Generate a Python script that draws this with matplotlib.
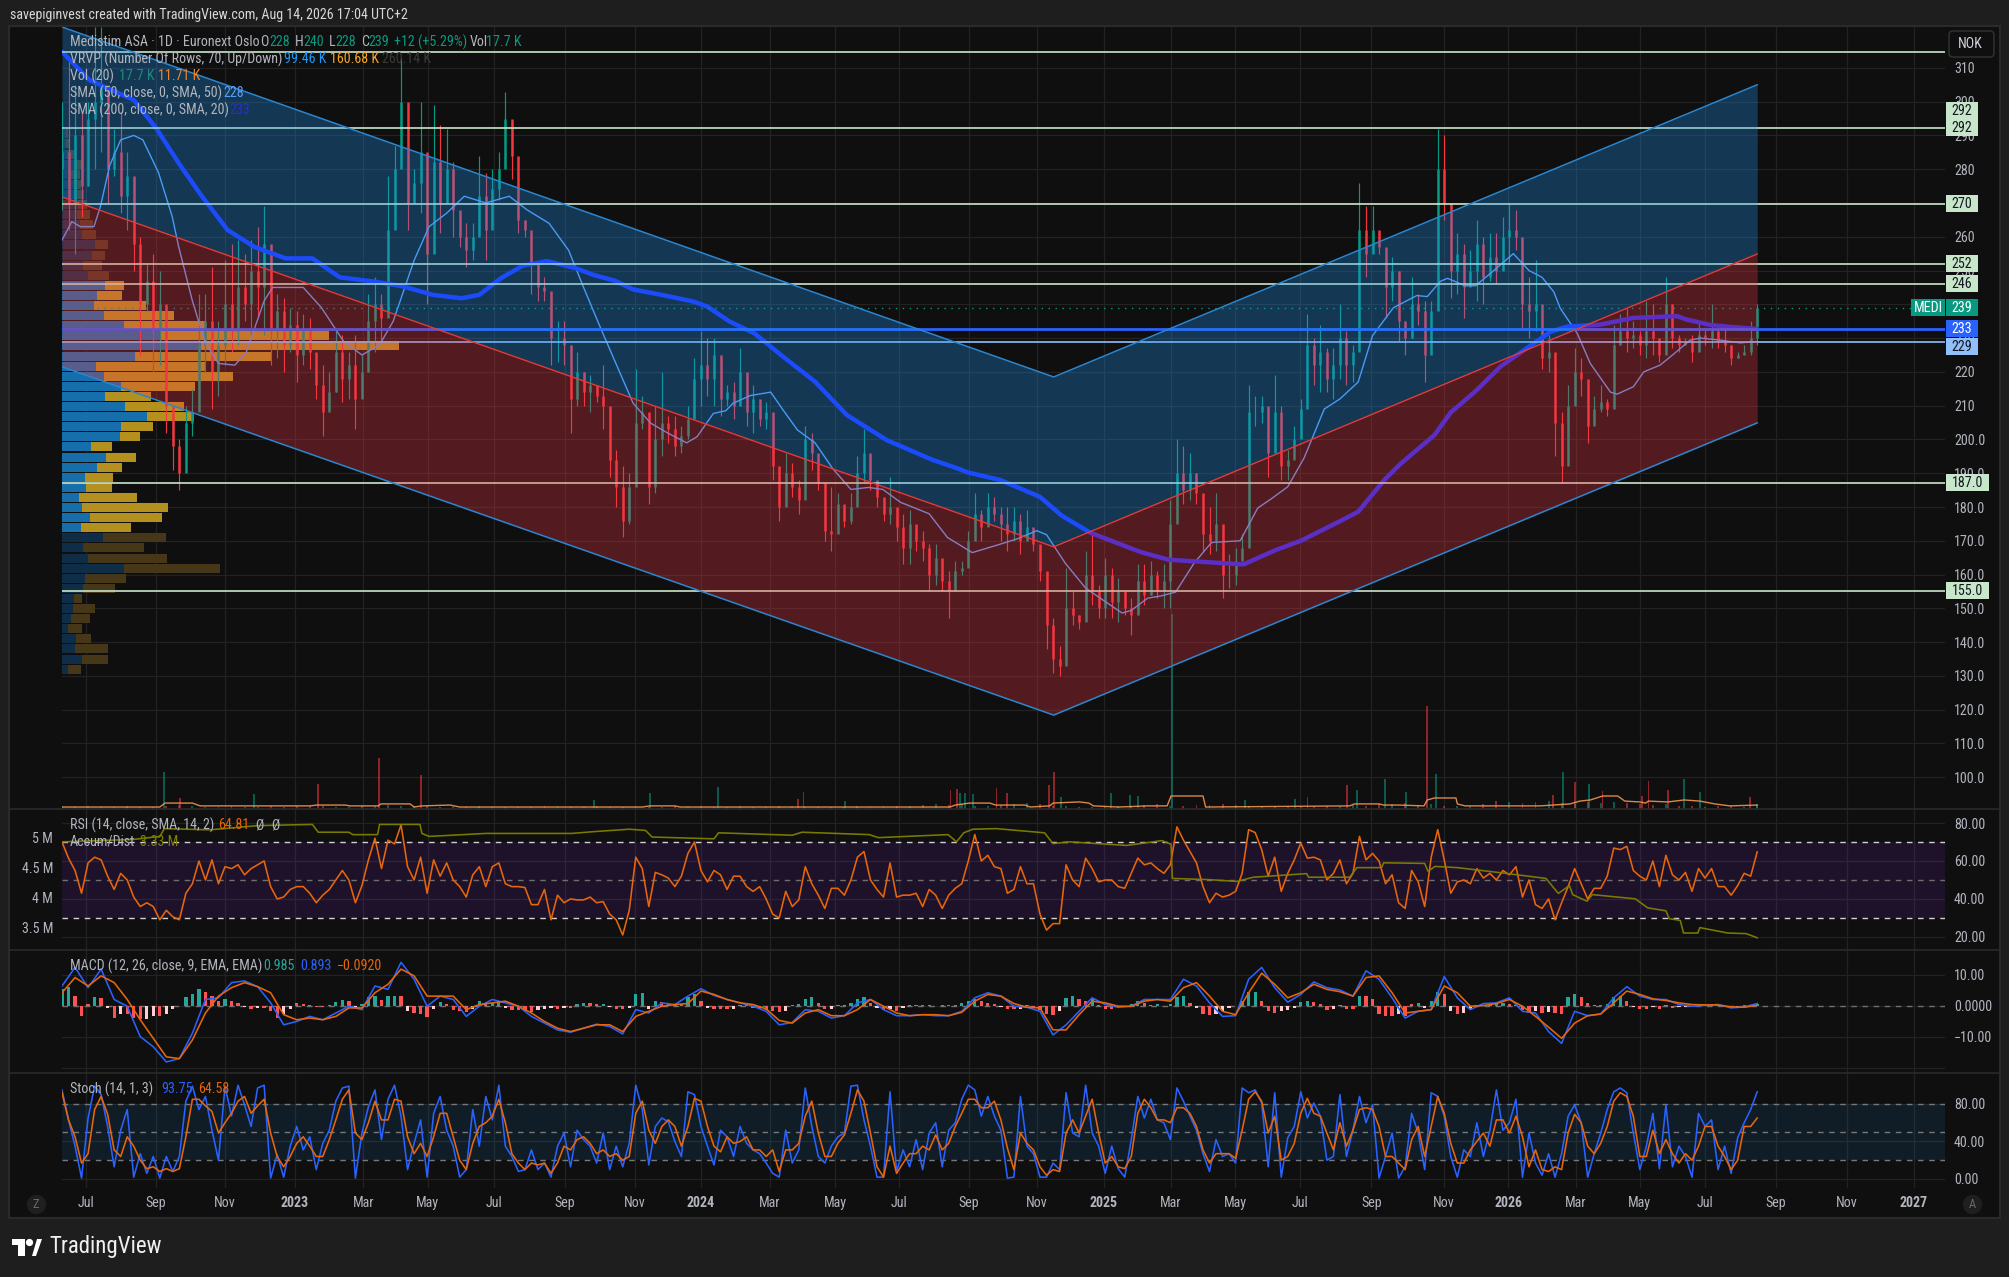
import numpy as np
import matplotlib
matplotlib.use("Agg")
import matplotlib.pyplot as plt
from matplotlib.patches import Rectangle, FancyBboxPatch, Polygon

plt.rcParams['font.family'] = ['Roboto Condensed', 'PT Sans Narrow', 'Liberation Sans', 'DejaVu Sans']
plt.rcParams['font.size'] = 10

W, H = 2009, 1277
# x axis unit: one candle slot (about 4 sessions)
month_ticks = [3.7, 14.4, 25, 35.7, 46.2, 56.1, 66.3, 77.1, 87.9, 98, 108.6, 118.6, 128.4, 139.1, 149.5,
               159.8, 170.1, 179.9, 189.9, 200.8, 212, 221.8, 232.2, 242, 252, 262.9, 273.8, 284]
month_labels = ['Jul', 'Sep', 'Nov', '2023', 'Mar', 'May', 'Jul', 'Sep', 'Nov', '2024', 'Mar', 'May', 'Jul', 'Sep', 'Nov',
                '2025', 'Mar', 'May', 'Jul', 'Sep', 'Nov', '2026', 'Mar', 'May', 'Jul', 'Sep', 'Nov', '2027']

candle_high = [300,312,305,297,300,322,322,295,292,297, 285,277,260,252,255,250,215,206,200,210,
               215,243,243,251,235,253,258,259,255,259, 263,269,251,243,242,239,238,237,236,222,
               222,220,232,231,226,231,225,243,248,243, 278,287,313,282,280,300,281,299,293,292,
               282,265,264,264,284,279,280,285,303,294, 269,265,260,251,248,242,235,235,228,226,
               220,219,216,222,201,197,192,190,221,213, 203,210,220,207,207,204,210,224,232,230,
               230,225,216,217,227,219,216,210,211,201, 188,196,193,188,204,202,189,178,186,184,
               180,184,195,203,193,186,180,189,178,178, 179,172,173,169,169,161,161,164,164,173,
               184,179,184,183,180,180,180,178,179,172, 166,157,147,139,162,155,148,167,172,157,
               165,162,159,154,153,163,163,164,161,163, 182,200,198,196,190,183,180,184,170,166,
               168,172,216,213,213,209,219,210,197,204, 212,237,230,234,227,227,240,232,228,276,
               269,269,261,255,254,250,235,248,243,241, 241,292,290,264,261,258,256,265,260,261,
               261,266,270,268,259,248,253,230,231,217, 208,216,227,224,212,213,216,212,234,237,
               239,235,232,241,240,228,248,240,231,230, 231,235,233,240,233,233,228,226,228,235,240]
candle_low = [268,262,255,266,275,280,285,270,278,267, 262,250,225,238,220,222,202,191,185,195,
              201,214,220,209,213,222,226,228,235,231, 236,231,222,224,220,226,217,222,221,212,
              201,209,214,211,212,203,214,220,226,229, 245,267,284,262,272,267,240,265,261,271,
              260,257,251,253,261,253,265,271,281,277, 261,260,243,241,241,222,223,222,202,210,
              210,208,211,203,189,180,171,175,198,203, 181,184,195,199,195,196,200,209,210,213,
              210,207,210,206,210,204,202,204,203,188, 176,184,183,178,195,191,185,170,167,178,
              174,175,186,187,185,180,176,175,170,163, 163,167,164,155,157,155,147,156,160,164,
              171,170,177,176,170,167,170,166,170,167, 158,138,131,130,137,145,144,148,151,147,
              147,147,146,148,142,151,151,154,153,150, 150,180,181,182,181,167,166,167,153,156,
              157,165,179,204,205,189,201,188,188,196, 207,218,216,214,214,212,218,216,217,230,
              248,256,255,236,241,229,225,230,234,217, 230,251,265,242,243,236,246,241,240,247,
              246,255,252,256,233,230,232,221,220,195, 187,205,215,213,199,205,208,207,215,228,
              226,227,225,224,225,223,230,227,226,228, 223,227,228,227,227,226,222,224,225,225,228]
candle_close = [285,270,290,275,295,300,305,280,285,272, 278,258,240,247,232,240,210,198,190,205,
                208,228,235,220,228,240,232,245,240,250, 245,258,232,238,228,234,225,232,226,216,
                208,214,226,218,222,212,220,235,240,236, 262,280,300,270,276,285,255,282,270,280,
                268,260,256,260,272,262,274,280,295,284, 265,262,252,245,244,230,230,228,212,220,
                214,216,213,210,194,186,176,186,205,208, 186,200,205,203,198,201,206,218,222,218,
                225,212,214,210,220,208,212,206,208,192, 180,190,186,182,200,196,187,173,172,181,
                176,180,190,196,188,183,178,180,174,168, 175,170,168,160,165,158,155,161,162,170,
                178,174,180,178,175,172,176,170,174,169, 161,145,135,133,150,148,146,160,155,150,
                160,152,155,150,148,158,154,160,155,158, 175,190,185,190,184,172,170,175,160,160,
                164,168,208,208,210,196,208,192,194,200, 209,228,222,226,218,222,230,222,226,262,
                255,262,257,245,250,235,230,240,238,225, 238,280,270,250,255,245,250,258,248,254,
                250,260,262,260,240,238,240,224,226,205, 192,210,220,218,204,209,211,209,228,232,
                230,231,228,232,230,225,240,230,228,229, 226,231,230,232,229,228,224,225,226,230,239]

sma50_x = [0,1.5,2.8,4.9,5.9,7.3,9,11,12.4,14.8,16.9,17.9,20,22,24,26.5,28.2,31,32.3,35,37,39.8,43.2,46,48.7,50.8,
           54,56.3,59,61.7,65,68.6,71.3,74.7,77.7,80,82.6,85.4,87.6,90.3,93,95.8,97.4,99.9,101.8,102.9,105.6,108.7,
           110.6,112.8,115.5,118.2,121,123.7,125.9,128.6,133,135.8,139.6,143.9,146.7,149.5,151,153.9,157,160,162.6,
           164,166.5,168.6,170.8,173.6,176.3,180.7,183.4,185.6,188,190.5,193.6,196,198.8,201,204.2,207.8,209.4,211.4,
           212.5,215.2,216.8,219.6,222.6,225,227,228.8,229.8,232.4,234.4,237.5,238.5,241,242.6,245.1,247.2,249.7,251.3,
           254.3,257.4,260]
sma50 = [259,264.5,263,263,269,281,288.7,290,288.7,279,266,257,241,228.5,222.5,222,225.5,241,245,245,245,239,229,225,228,235,
         253,263,267,272,270,272,268,264,256,245,233,220.5,210.7,204.8,201.8,199,200.8,207.7,208.5,210.7,213,214,
         208.7,202.8,199,191.4,185.2,185.8,185.2,181.4,178,171,166.5,169,170.7,173,171.8,163.3,156,152,148.6,
         149.4,153,153.7,154.8,163.3,169.5,170,179.7,182.6,186,194.5,209,212,217,230.7,239,242.6,242.3,246.8,
         247.7,245.5,245.5,250,255,250,248,243.7,238.8,231.4,222.5,214,213.4,215.6,220,222,225.3,229.4,230,
         229.4,228.6,229]
sma200_x = [0,4.2,11,14.5,17.9,21.3,25.4,29.5,34.3,38.4,42.6,48,52.1,56.9,61.3,64,67.3,70.6,74.4,78.8,81.5,84.8,87.6,92,96.9,
            99,102.4,106.2,110.6,115.5,120.4,126.5,133.6,137.4,139,143.9,150,153.3,157.7,165.4,169.7,176.3,181.2,186.2,
            190,196,198.8,202.9,205.3,210.5,213,216.8,220.7,225.7,228.3,230.8,235.9,238.5,241,247.7,249.2,252.8,255.4,260]
sma200 = [314.8,306.4,300.5,292,281.8,272.4,262,257,253.6,253.6,248,246.7,245.4,242.8,241.8,242.8,247.7,251.4,252.8,250.7,248.7,247,244.4,242.8,240.8,
          239.3,234.9,231.4,224.5,217.1,207.2,199.8,193.9,191.4,190.2,188,183,177.5,172.4,166.7,164.4,163.6,163,167.3,
          170,175.8,178.6,188.2,192.8,201.3,208,214.3,221.7,228.4,231.9,233.4,234,235,236,236.5,235.5,233.9,233.4,232.7]

# channel anchors
channel_x = [0, 152.1, 260]
channel_top = [322.1, 218.5, 305.0]
channel_mid = [271.8, 168.2, 254.9]
channel_bot = [221.5, 118.4, 204.9]

level_prices = [292.2, 269.7, 252.0, 246.0, 187.1, 155.1]
top_line_price = 314.7
sma200_last = 232.7
sma50_last = 228.9
last_price = 239.0

# visible range volume rows, bottom row first
vrvp_up = [6,20,13,14,6,9,11,12, 21,23,62,26,21,41, 19,28,20,17,24,23,35,44,29,58,59,85,63,43,59,42,34,73,139,99,62,42,32,35,43,
           26,21,30,33,20,18,15,16,15,12,9,14,5,4,4]
vrvp_down = [13,26,33,15,14,19,22,8, 32,41,96,79,61,63, 50,72,86,58,26,28,25,30,21,20,32,47,59,46,74,129,109,136,198,168,81,70,52,25,19,
             21,19,13,13,14,13,13,9,7,7,9,7,7,3,2]
vrvp_bright_from, vrvp_bright_to = 14, 38

vol_spike_x = [15.6,18.1,29.4,39.3,48.6,55.1,81.6,90.2,100.6,112.9,113.7,120.1,136.3,137.3,137.7,138.5,139.7,143.3,144.9,151.4,152.1,153.2,
               160.9,163.8,165,170.2,181.4,189.1,191,197.1,198.6,202.9,206.1,209.4,210.7,228.7,230.2,232.1,234.2,236.3,242.3,243.3,246.3,
               248.8,251.2,258.9,260]
vol_spike = [131,39,53,88,181,120,32,57,78,35,60,28,67,71,57,57,53,74,57,85,131,42,57,50,46,690,32,35,42,85,67,106,60,365,124,50,131,96,88,64,46,99,67,106,60,42,18]
vol_spike_up = [1,0,1,0,0,0,1,1,1,0,1,1,0,0,1,1,1,0,0,0,0,1,1,1,1,1,1,1,1,0,1,1,1,0,1,0,1,0,1,0,0,0,0,1,1,0,1]
# small daily volume, one reading every 2 slots
vol_base = [9,7,10,8,7,9,6,8,12,14,9,7,8,10,7,6,9,8,11,9,12,8,7,9,10,14,9,11,10,7,8,6,9,7,8,7,6,9,10,7,8,9,7,8,7,6,8,9,7,10,
            8,7,9,8,7,9,8,7,6,8,7,9,8,10,12,11,14,18,15,16,12,10,14,18,21,16,12,9,8,7,8,9,10,14,18,12,10,14,13,18,14,12,9,10,8,7,9,
            12,10,14,12,16,18,21,14,16,12,10,12,18,28,25,21,25,28,21,18,25,21,25,21,18,14,16,12,10,8,10,9,8,14]
vol_ma_x = [0,15,15.8,20,21.2,38,39.1,43.4,44.2,48.5,48.9,53.4,54,55.2,59.5,61,89,90.2,94,94.8,136.2,137,139.2,142.3,143.2,147.7,148.5,151.5,
            152,156,157.5,158.2,162,166.6,169.5,170.1,175,175.4,197.5,198.2,202,202.7,205,208.9,209.4,210.5,213.8,214,215.2,226.7,231.3,232.8,
            234.4,236.3,238.6,239.7,242,242.9,243.3,246.3,248.8,251.2,253.5,255.8,260]
vol_ma = [7,7,21,21,11,11,14,14,11,11,18,18,7,11,14,7,7,11,11,7,7,14,21,21,14,14,7,11,
          21,25,21,11,7,11,11,46,46,7,11,18,18,14,14,11,32,39,39,18,11,11,18,28,
          32,46,46,28,25,21,28,25,32,28,18,11,14]

rsi = [70,61.5,55,43,59,62,60.6,52,45,53.5,50,41,36,38,36,29,34,30.6,29,43,48,60,50,60.6,48,57,56,58,52.7,56,
       58,60,46.5,40,41,45,46.5,46.5,43,38,42,45,50,55,50,38,47,60.6,72,56,71,69,79,57,50,62,43,60.6,52,59,
       50,46.5,41,52.7,57,46.5,57,59,48,46.5,46.5,46,37,37,45,29,42,38,40,39.5,39.5,41,38,38.6,32,29,21,34,62,56,
       36,54,52.7,51,46.5,52,64,70,55,49,55,52.7,45,52,52,46.5,44,46.5,40,32,30,44,36,39.5,57,48,42,35,45.6,45.6,
       42,50,62,65,50,45,41,59,41,42,42,43,36,45,42,35,42,45.6,48,60,74,60,63,57,56,43,45,57,48,48,
       32,23.6,27,27,58,50,46.5,61.5,56,49,50,50,46.5,45.6,53.5,61.5,58,59,56,53.5,58,78,71,65,59,46.5,38,43,41,42,
       44,53.5,76.5,75,66,52,62,44,53.5,60.6,69.4,61.5,62,60.6,50,53.5,60.6,48,53.5,73,60.6,64,60,48,52.7,38,35,55,49,36,
       62,76.5,60.6,43,49,50,48,56,51,53.5,50,55,52.7,57,41,50,37,35,40,29,38,46.5,56,48,40,45.6,45.6,52,66.8,66,
       67.7,55,52,50,60,46.5,63,52.7,50,54,44,56,51,56,46.5,46.5,42,47,53.5,52,64.8]

ad_x = [0,11,15,15.7,22.7,30,38.4,39.3,44,44.6,48.4,48.7,54.9,55.2,56.3,65,78.2,81.6,87,89.5,90.5,100,100.7,112,113.5,123.8,125.2,135.9,137.2,
        138.3,139.7,143.3,150.7,152,154.5,163.3,168.7,170.1,170.3,175.9,180.2,182.7,190.9,191.2,197.5,198.6,202.4,202.7,209,209.5,210.6,214,
        221,227.6,229.5,231.2,231.7,233.9,234.7,241.3,243.2,246,246.5,248.2,248.7,250.9,251.2,255.5,258.3,260]
ad_line = [4.92,4.96,5.01,5.14,5.12,5.19,5.21,5.08,5.08,5.04,5.04,5.21,5.21,5.06,5.01,5.06,5.06,5.09,5.13,5.11,5.0,4.97,5.07,5.03,5.08,5.04,4.99,5.04,4.92,
           5.07,5.13,5.14,5.07,4.89,4.92,4.86,4.94,4.88,4.31,4.29,4.26,4.33,4.39,4.33,4.33,4.49,4.49,4.57,4.56,4.43,4.51,4.49,
           4.40,4.31,4.06,4.19,4.04,3.93,4.04,3.97,3.82,3.77,3.64,3.61,3.40,3.40,3.49,3.40,3.39,3.32]

# MACD readings as offsets from the zero line, divided by the pane scale
macd_scale = 9.2
macd_hist = np.array([50,55,30,-30,5,25,22,-5,-35,-25,-25,-35,-40,-38,-30,-30,-25,-8,0,25,35,50,42,30,15,20,15,10,-2,-10,
    -5,-5,-15,-35,-25,-10,8,5,3,-3,-3,3,12,17,15,-3,5,25,30,18,30,30,28,-15,-20,-25,-32,-10,12,5,
    -12,-15,-18,-10,15,10,10,15,-5,-12,-12,-15,-17,-12,-10,-5,-10,-5,-5,5,10,8,5,5,-4,-8,-10,-5,35,38,
    -8,15,13,8,5,5,25,35,15,-5,-10,-10,-10,-8,3,2,-5,-8,-12,-15,-18,-15,3,5,20,25,8,-10,-8,3,
    2,10,20,25,8,-5,-12,-10,-14,-5,3,2,3,2,1,2,2,3,8,15,20,15,8,5,-3,-8,-10,-8,2,-3,
    -12,-25,-28,-15,22,30,20,15,20,3,-8,-8,-5,-3,5,15,10,3,5,1,5,25,30,10,-5,-25,-28,-25,-15,-5,
    0,15,40,40,15,-15,-20,-15,-12,-5,12,15,12,5,-12,-8,3,-8,-8,30,28,20,-25,-30,-30,-25,-30,5,8,-5,
    15,40,35,-15,-25,-20,-8,2,3,3,5,8,5,3,-12,-20,-15,-20,-18,-20,-25,25,35,25,8,2,4,5,25,30,
    15,-3,-8,-8,-4,-8,3,-6,-4,-2,-2,2,3,2,2,-2,-3,-2,3,4,7]) / macd_scale
macd_line = np.array([59,114,54,109,19,-1,-91,-121,-166,-156,-81,19,24,69,74,57,9,-56,-46,-31,-41,-21,-1,-11,59,49,129,79,-1,29,
    19,-31,-1,19,9,-1,-31,-51,-71,-78,-66,-54,-61,-83,-11,-21,9,4,29,51,31,19,9,-1,-16,-56,-49,-11,-16,-36,
    -29,9,19,-11,-29,-29,-26,-29,-29,-16,24,39,29,-1,-4,-16,-86,-56,-16,24,4,-4,-1,19,19,19,79,59,
    9,-31,-29,79,114,54,11,34,71,54,47,29,104,79,24,-36,-16,-11,87,24,-11,7,9,24,-16,-21,-76,-111,-16,-29,
    -24,24,57,29,19,19,4,-1,2,4,-6,-3,7]) / macd_scale
macd_signal = np.array([39,84,59,89,69,19,-41,-96,-151,-156,-101,-21,29,54,69,57,39,-26,-41,-36,-41,-31,-6,-6,39,64,109,89,29,29,
    29,-11,4,9,14,-1,-21,-46,-66,-76,-66,-56,-56,-76,-31,-16,-1,4,7,44,34,19,9,4,-9,-43,-51,-21,-11,-29,
    -29,-11,19,-1,-21,-29,-26,-26,-29,-19,14,34,29,7,-4,-6,-71,-71,-26,14,9,-1,-1,14,19,14,54,69,
    29,-16,-26,39,97,64,24,39,64,49,42,29,84,89,39,-21,-16,-11,59,39,-1,1,7,19,-1,-31,-63,-96,-51,-29,
    -24,9,44,34,21,16,9,4,3,3,-3,-4,2]) / macd_scale

stoch_k = [95,63,35,1,65,99,90,56,13,52,74,2,27,6,24,1,24,8,24,83,99,74,88,52,20,99,67,100,79,56,
           97,100,1,26,2,35,56,31,45,10,38,52,83,97,99,1,49,77,95,42,85,100,67,10,38,63,2,70,88,52,
           35,2,10,74,35,88,63,100,35,24,8,10,31,10,17,2,35,49,13,52,42,35,17,49,10,35,13,38,100,74,
           15,56,65,61,40,24,93,90,56,35,15,52,45,24,56,38,31,27,17,6,2,52,17,31,97,56,24,17,35,45,
           49,99,100,63,35,2,2,93,8,31,13,42,10,49,60,13,52,60,85,100,95,67,88,67,52,1,2,88,35,27,
           2,2,17,10,92,49,45,100,49,35,6,35,11,2,42,88,65,85,63,60,42,97,83,67,52,27,8,42,24,27,
           17,97,92,95,81,13,92,2,44,56,93,65,81,67,20,24,90,24,52,88,60,79,1,24,49,1,13,70,49,10,
           92,88,67,24,2,31,24,60,24,52,95,52,60,85,2,49,17,4,27,2,27,67,79,60,2,27,49,74,93,97,
           92,49,10,35,70,11,79,13,35,24,2,70,56,63,10,35,6,44,60,74,93]
stoch_d = [92,63,45,17,27,74,88,69,31,24,45,35,20,11,13,8,11,8,11,45,85,85,78,72,49,60,70,83,88,70,
           78,85,49,24,13,24,38,45,35,24,24,42,63,85,95,49,42,60,83,63,63,85,83,45,27,38,24,45,70,70,
           45,20,10,38,56,60,67,85,60,27,17,10,17,15,17,6,17,35,31,42,45,38,27,31,24,27,20,24,70,83,
           52,38,56,63,56,35,56,86,83,56,35,29,45,38,40,45,31,31,24,31,8,31,31,38,67,83,49,24,24,38,
           47,70,95,83,49,13,2,35,6,17,27,27,35,31,47,31,38,56,70,85,85,76,76,83,63,33,10,49,38,31,
           13,4,10,8,49,63,49,67,85,49,17,24,13,11,24,70,85,76,63,63,60,76,76,70,56,31,17,27,27,27,
           22,52,85,93,83,49,67,20,24,38,70,86,70,67,49,31,60,35,52,74,76,74,56,24,24,17,10,42,56,24,
           56,88,70,38,17,17,31,40,49,35,63,63,49,67,45,13,31,10,8,13,10,49,69,60,35,27,38,56,83,92,
           88,67,24,24,52,27,42,27,17,27,20,35,56,56,35,24,10,20,56,56,65]

fig = plt.figure(figsize=(W / 100, H / 100), dpi=100, facecolor='#1e1e1e')
fig.add_artist(Rectangle((9 / W, 1 - 1218 / H), 1991 / W, 1192 / H, transform=fig.transFigure,
                         facecolor='#0f0f0f', edgecolor='#2a2a2a', lw=1.5, zorder=-1))


def pane(top, bottom):
    ax = fig.add_axes([62 / W, 1 - bottom / H, (1945 - 62) / W, (bottom - top) / H])
    ax.set_facecolor('none')
    for s in ax.spines.values():
        s.set_visible(False)
    ax.set_xlim(0, (1945 - 62) / 6.52)
    ax.set_xticks(month_ticks)
    ax.set_xticklabels([])
    ax.yaxis.tick_right()
    ax.tick_params(length=0, labelcolor='#b2b5be', labelsize=10.1, pad=6.5)
    ax.grid(True, color='#222222', lw=0.9)
    ax.set_axisbelow(True)
    return ax


ax_main = pane(27, 809)
ax_rsi = pane(809, 950)
ax_macd = pane(950, 1073)
ax_stoch = pane(1073, 1188)

# main pane
y_top, y_bot = 322.1, 90.6
ax_main.set_ylim(y_bot, y_top)
main_ticks = list(range(100, 320, 10))
ax_main.set_yticks(main_ticks)
ax_main.set_yticklabels([f'{t}' if t > 200 else f'{t}.0' for t in main_ticks])


def price_y(p):
    return 27 + (y_top - p) * 3.377


rows = np.arange(len(vrvp_up))
row_price = 132 + 2.99 * rows
scale_x = 1 / 6.52
up = np.array(vrvp_up) * scale_x
down = np.array(vrvp_down) * scale_x
bright = (rows >= vrvp_bright_from) & (rows <= vrvp_bright_to)
ax_main.barh(row_price, up, height=2.68, color=np.where(bright, '#166eaa', '#0f2d46'), lw=0, zorder=1)
ax_main.barh(row_price, down, left=up, height=2.68, color=np.where(bright, '#b4911e', '#463719'), lw=0, zorder=1)

x = np.arange(len(candle_close))
high = np.array(candle_high)
low = np.array(candle_low)
close = np.array(candle_close)
open_ = np.r_[close[0] - 5, close[:-1]]
rising = close >= open_
c_up, c_down = '#089981', '#f5363f'
candle_colors = np.where(rising, c_up, c_down)

vol_to_price = 1 / 3.54 / 3.377
base_x = x[::2]
ax_main.bar(base_x, np.array(vol_base) * vol_to_price, bottom=y_bot, width=0.3,
            color=candle_colors[::2], alpha=0.55, lw=0, zorder=1.5)
ax_main.bar(vol_spike_x, np.array(vol_spike) * vol_to_price, bottom=y_bot, width=0.25,
            color=[c_up if u else c_down for u in vol_spike_up], alpha=0.55, lw=0, zorder=1.5)
ax_main.plot(vol_ma_x, y_bot + np.array(vol_ma) * vol_to_price, color='#ff9c52', lw=1, alpha=0.85, zorder=1.7)

ax_main.vlines(x, low, high, colors=candle_colors, lw=0.85, zorder=2)
ax_main.vlines(x, np.minimum(open_, close), np.maximum(open_, close), colors=candle_colors, lw=1.8, zorder=2)

ax_main.plot(sma50_x, sma50, color='#5b9cf6', lw=1.0, zorder=3)
ax_main.plot(sma200_x, sma200, color='#1a2cff', lw=3.2, zorder=3, solid_capstyle='round')

for p in [top_line_price] + level_prices:
    ax_main.axhline(p, color='#c8e6c9', lw=1.2, zorder=4)
ax_main.axhline(sma200_last, color='#2962ff', lw=2, zorder=4)
ax_main.axhline(sma50_last, color='#90bff9', lw=1.2, zorder=4)
ax_main.axhline(last_price, color='#089981', lw=1, ls=(0, (1, 4)), zorder=4)

ax_main.fill_between(channel_x, channel_mid, channel_top, color='#2196f3', alpha=0.3, lw=0, zorder=5)
ax_main.fill_between(channel_x, channel_bot, channel_mid, color='#f23645', alpha=0.3, lw=0, zorder=5)
ax_main.plot(channel_x, channel_top, color='#2a86d0', lw=1.1, zorder=6)
ax_main.plot(channel_x, channel_bot, color='#2a86d0', lw=1.1, zorder=6)
ax_main.plot(channel_x, channel_mid, color='#e53935', lw=1.0, zorder=6)

# RSI pane
ax_rsi.set_ylim(13.1, 87.4)
ax_rsi.axhspan(30, 70, color='#8a2be2', alpha=0.13, lw=0, zorder=0.6)
for lvl, col in [(70, '#d0d0d0'), (50, '#6f6f6f'), (30, '#d0d0d0')]:
    ax_rsi.axhline(lvl, color=col, lw=1, ls=(0, (4, 4)), zorder=1)
ax_rsi.plot(x, rsi, color='#e8660a', lw=1.15, zorder=3)

ax_ad = ax_rsi.twinx()
ax_ad.set_facecolor('none')
for s in ax_ad.spines.values():
    s.set_visible(False)
ax_ad.set_ylim(3.117, 5.467)
ax_ad.yaxis.tick_left()
ax_ad.set_yticks([3.5, 4, 4.5, 5])
ax_ad.set_yticklabels(['3.5 M', '4 M', '4.5 M', '5 M'])
ax_ad.tick_params(length=0, labelcolor='#b2b5be', labelsize=10.1, pad=6.5)
ax_ad.plot(ad_x, ad_line, color='#808000', lw=1.15, alpha=0.95, zorder=2)
ax_rsi.yaxis.tick_right()
ax_rsi.set_yticks([20, 40, 60, 80])
ax_rsi.set_yticklabels(['20.00', '40.00', '60.00', '80.00'])

# MACD pane
ax_macd.set_ylim(-21.6, 18)
ax_macd.set_yticks([-20, -10, 0, 10])
ax_macd.set_yticklabels(['', '\u221210.00', '0.0000', '10.00'])
ax_macd.axhline(0, color='#6f6f6f', lw=1, ls=(0, (4, 4)), zorder=1)
growing = np.r_[True, np.abs(macd_hist[1:]) >= np.abs(macd_hist[:-1])]
hist_colors = ['#26a69a' if h > 0 and g else '#ffcdd2' if h <= 0 and not g else '#ff5252'
               for h, g in zip(macd_hist, growing)]
ax_macd.bar(x, macd_hist, width=0.5, color=hist_colors, lw=0, zorder=2)
macd_x = x[::2]
ax_macd.plot(macd_x, macd_line, color='#2962ff', lw=1.15, zorder=3)
ax_macd.plot(macd_x, macd_signal, color='#e8660a', lw=1.15, zorder=3)

# Stoch pane
ax_stoch.set_ylim(-9.6, 113)
ax_stoch.set_yticks([0, 40, 80])
ax_stoch.set_yticklabels(['0.00', '40.00', '80.00'])
ax_stoch.axhspan(20, 80, color='#2196f3', alpha=0.1, lw=0, zorder=0.6)
for lvl in [80, 50, 20]:
    ax_stoch.axhline(lvl, color='#787878', lw=1, ls=(0, (4, 4)), zorder=1)
ax_stoch.plot(x, stoch_k, color='#2962ff', lw=1.15, zorder=3)
ax_stoch.plot(x, stoch_d, color='#e8660a', lw=1.15, zorder=3)
ax_stoch.set_xticklabels(month_labels)
ax_stoch.tick_params(axis='x', pad=5.5)
for lab in ax_stoch.get_xticklabels():
    if lab.get_text().isdigit():
        lab.set_fontweight('bold')


def txt(px, py, s, color='#b2b5be', size=10.1, ha='left', weight='normal', z=8):
    fig.text(px / W, 1 - py / H, s, color=color, fontsize=size, ha=ha, va='center', weight=weight, zorder=z)


# pane separators
for sep in [809, 950, 1073]:
    fig.add_artist(plt.Line2D([10 / W, 1999 / W], [1 - sep / H] * 2, color='#2a2a2a', lw=1.2, zorder=1))


def price_box(cy, text, fill, tcolor, left=1946, width=32):
    fig.add_artist(Rectangle((left / W, 1 - (cy + 8.5) / H), width / W, 17 / H, transform=fig.transFigure,
                             facecolor=fill, lw=0, zorder=2))
    txt(left + width / 2, cy + 0.5, text, color=tcolor, ha='center')


green_box = '#c8e6c9'
dark = '#131722'
price_box(price_y(292.2) - 17, '292', green_box, dark)
price_box(price_y(292.2), '292', green_box, dark)
price_box(price_y(269.7), '270', green_box, dark)
price_box(price_y(252.0), '252', green_box, dark)
price_box(price_y(246.0), '246', green_box, dark)
price_box(price_y(187.1), '187.0', green_box, dark, width=43)
price_box(price_y(155.1), '155.0', green_box, dark, width=43)
price_box(price_y(last_price), '239', '#089981', 'white')
price_box(price_y(last_price), 'MEDI', '#089981', 'white', left=1911, width=34)
price_box(price_y(sma50_last) + 5, '229', '#90bff9', dark)
price_box(price_y(sma200_last), '233', '#2962ff', 'white')

fig.add_artist(FancyBboxPatch((1949 / W, 1 - 57 / H), 45 / W, 26 / H, transform=fig.transFigure,
                              boxstyle='round,pad=0,rounding_size=0.002', facecolor='#0f0f0f',
                              edgecolor='#2e2e2e', lw=1.2, zorder=2, mutation_aspect=W / H))
txt(1970, 44.5, 'NOK', color='#d1d4dc', ha='center')

# round buttons
for cx, label in [(36, 'Z'), (1972, 'A')]:
    fig.add_artist(plt.Line2D([cx / W], [1 - 1204 / H], marker='o', ms=13, color='#1f1f1f', lw=0, zorder=2))
    txt(cx, 1204, label, color='#6a6a6a', ha='center', size=9)

# header
txt(10, 15, 'savepiginvest created with TradingView.com, Aug 14, 2026 17:04 UTC+2', color='#d8d8d8')

green = '#089981'
legend = [
    (70, 42, 'Medistim ASA \u00b7 1D \u00b7 Euronext Oslo', '#b2b5be'),
    (260, 42, 'O', '#b2b5be'), (269, 42, '228', green), (295, 42, 'H', '#b2b5be'), (303, 42, '240', green),
    (329, 42, 'L', '#b2b5be'), (335, 42, '228', green), (361, 42, 'C', '#b2b5be'), (368, 42, '239', green),
    (394, 42, '+12 (+5.29%)', green), (470, 42, 'Vol', '#b2b5be'), (486, 42, '17.7 K', green),
    (70, 59, 'VRVP (Number Of Rows, 70, Up/Down)', '#b2b5be'), (284, 59, '99.46 K', '#2196f3'),
    (330, 59, '160.68 K', '#f5a623'), (382, 59, '260.14 K', '#3a3a3a'),
    (70, 76, 'Vol (20)', '#b2b5be'), (119, 76, '17.7 K', '#1f8a7c'), (158, 76, '11.71 K', '#e8872e'),
    (70, 93, 'SMA (50, close, 0, SMA, 50)', '#b2b5be'), (223, 93, '228', '#5b9cf6'),
    (70, 110, 'SMA (200, close, 0, SMA, 20)', '#b2b5be'), (229, 110, '233', '#2a2ed0'),
    (70, 825, 'RSI (14, close, SMA, 14, 2)', '#b2b5be'), (218, 825, '64.81', '#e8660a'),
    (255, 825, '\u00d8', '#b2b5be'), (271, 825, '\u00d8', '#b2b5be'),
    (70, 842, 'Accum/Dist', '#b2b5be'), (140, 842, '3.33 M', '#808000'),
    (70, 966, 'MACD (12, 26, close, 9, EMA, EMA)', '#b2b5be'), (263, 966, '0.985', '#26a69a'),
    (300, 966, '0.893', '#2962ff'), (337, 966, '\u22120.0920', '#e8660a'),
    (70, 1089, 'Stoch (14, 1, 3)', '#b2b5be'), (161, 1089, '93.75', '#2962ff'), (198, 1089, '64.58', '#e8660a'),
]
for lx, ly, s, col in legend:
    txt(lx, ly, s, color=col)

# TradingView logo
fig.add_artist(Rectangle((12 / W, 1 - 1256 / H), 13 / W, 17 / H, transform=fig.transFigure, fc='white', lw=0, zorder=3))
fig.add_artist(Rectangle((12 / W, 1 - 1256 / H), 5.5 / W, 11.5 / H, transform=fig.transFigure, fc='#1e1e1e', lw=0, zorder=3))
fig.add_artist(Polygon([[32 / W, 1 - 1256 / H], [36 / W, 1 - 1256 / H], [42 / W, 1 - 1239 / H], [37 / W, 1 - 1239 / H]],
                       transform=fig.transFigure, fc='white', lw=0, zorder=3))
fig.add_artist(plt.Line2D([29 / W], [1 - 1242 / H], marker='o', ms=4.2, color='white', lw=0, zorder=3))
txt(49, 1247, 'TradingView', color='#f0f0f0', size=16.5)

fig.savefig('out.png', dpi=100, facecolor=fig.get_facecolor())
